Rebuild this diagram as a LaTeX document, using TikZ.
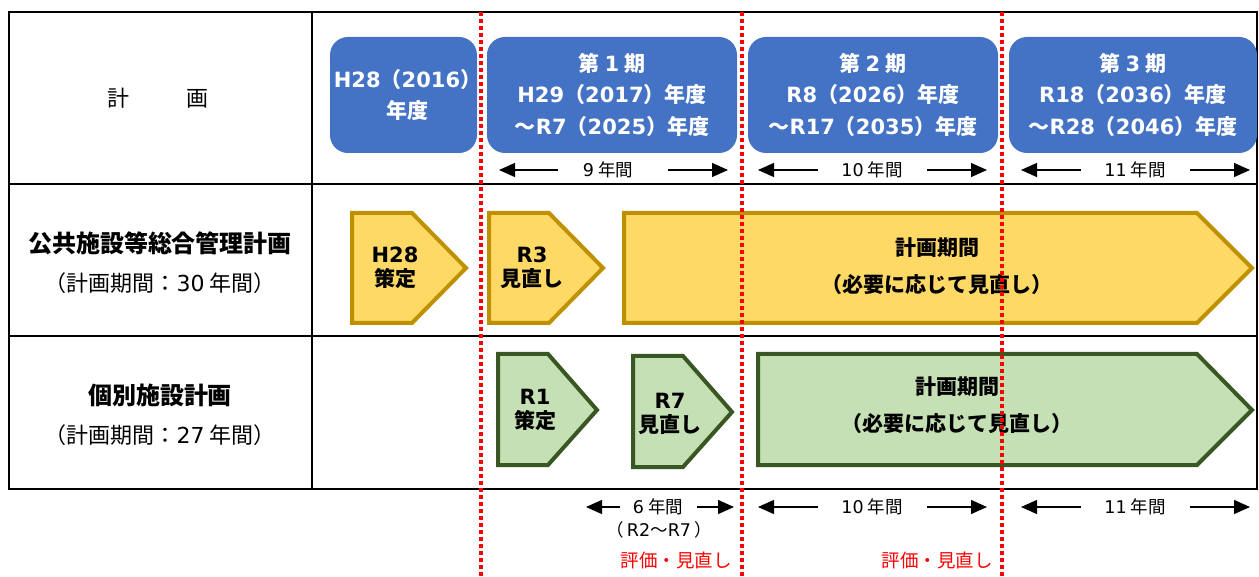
\documentclass[tikz,border=0pt]{standalone}
\usepackage{fontspec}
\setmainfont{Noto Sans CJK JP}
\newfontfamily\latf{DejaVu Sans}
\newcommand\Lat[1]{{\latf #1}}
\usetikzlibrary{arrows.meta}
\definecolor{boxblue}{HTML}{4472C4}
\definecolor{yelfill}{HTML}{FFD966}
\definecolor{yeldraw}{HTML}{BF9000}
\definecolor{grnfill}{HTML}{C5E0B4}
\definecolor{grndraw}{HTML}{385723}
\definecolor{redline}{HTML}{FF0000}
\tikzset{
  tbl/.style={line width=2pt, black},
  periodbox/.style={fill=boxblue, rounded corners=18pt, inner sep=0pt},
  periodtext/.style={inner sep=0pt, text=white,
     font=\fontsize{21}{31.5}\selectfont\bfseries, align=center},
  yelpent/.style={fill=yelfill, draw=yeldraw, line width=4pt, line join=miter},
  grnpent/.style={fill=grnfill, draw=grndraw, line width=4pt, line join=miter},
  penttext/.style={font=\fontsize{21}{24.5}\selectfont\bfseries, align=center, inner sep=0pt},
  bigtext/.style={font=\fontsize{21}{37}\selectfont\bfseries, align=center, inner sep=0pt},
  lbold/.style={font=\fontsize{24}{28}\selectfont\bfseries, inner sep=0pt},
  lnorm/.style={font=\fontsize{22}{26}\selectfont, inner sep=0pt},
  dimtext/.style={font=\fontsize{17.5}{20}\selectfont, inner sep=0pt},
  dimarrow/.style={line width=1.3pt, -{Triangle[length=16pt,width=14pt]}},
  evaltext/.style={font=\fontsize{18.5}{20}\selectfont, text=redline, inner sep=0pt},
  reddot/.style={redline, line width=3.5pt, dash pattern=on 4pt off 3pt},
}
\begin{document}
\begin{tikzpicture}[x=1pt,y=-1pt]
\useasboundingbox (0,0) rectangle (1259,577);
\fill[white] (0,0) rectangle (1259,577);

% table
\draw[tbl] (9,12) rectangle (1257,489);
\draw[tbl] (312,12) -- (312,489);
\draw[tbl] (9,184) -- (1257,184);
\draw[tbl] (9,336) -- (1257,336);

% left labels
\node[lnorm] (hdr) at (158,98) {計\hspace{57pt}画};
\node[lbold] (l1a) at (160,243) {公共施設等総合管理計画};
\node[lnorm] (l1b) at (160,283) {（計画期間：\Lat{30} 年間）};
\node[lbold] (l2a) at (160,395) {個別施設計画};
\node[lnorm] (l2b) at (160,435) {（計画期間：\Lat{27} 年間）};

% period boxes
\node[periodbox, minimum width=147pt, minimum height=116pt] (p0) at (403.5,95) {};
\node[periodbox, minimum width=250pt, minimum height=116pt] (p1) at (612,95) {};
\node[periodbox, minimum width=250pt, minimum height=116pt] (p2) at (873,95) {};
\node[periodbox, minimum width=248pt, minimum height=116pt] (p3) at (1133,95) {};
\node[periodtext] (p0t) at ([xshift=4pt]p0.center) {\Lat{H28}（\Lat{2016}）\\年度};
\node[periodtext] (p1t) at (p1.center) {第 \Lat{1} 期\\\Lat{H29}（\Lat{2017}）年度\\～\Lat{R7}（\Lat{2025}）年度};
\node[periodtext] (p2t) at (p2.center) {第 \Lat{2} 期\\\Lat{R8}（\Lat{2026}）年度\\～\Lat{R17}（\Lat{2035}）年度};
\node[periodtext] (p3t) at (p3.center) {第 \Lat{3} 期\\\Lat{R18}（\Lat{2036}）年度\\～\Lat{R28}（\Lat{2046}）年度};

% top duration arrows
\node[dimtext] (t9) at (608,170) {\Lat{9} 年間};
\coordinate (t9l1) at (558,170); \coordinate (t9l2) at (499,170);
\coordinate (t9r1) at (668,170); \coordinate (t9r2) at (728,170);
\draw[dimarrow] (t9l1) -- (t9l2);
\draw[dimarrow] (t9r1) -- (t9r2);
\node[dimtext] (t10) at (872,170) {\Lat{10} 年間};
\coordinate (t10l1) at (818,170); \coordinate (t10l2) at (758,170);
\coordinate (t10r1) at (927,170); \coordinate (t10r2) at (987,170);
\draw[dimarrow] (t10l1) -- (t10l2);
\draw[dimarrow] (t10r1) -- (t10r2);
\node[dimtext] (t11) at (1135,170) {\Lat{11} 年間};
\coordinate (t11l1) at (1081,170); \coordinate (t11l2) at (1021,170);
\coordinate (t11r1) at (1190,170); \coordinate (t11r2) at (1250,170);
\draw[dimarrow] (t11l1) -- (t11l2);
\draw[dimarrow] (t11r1) -- (t11r2);

% yellow pentagons
\draw[yelpent] (352,213) -- (412,213) -- (466,268) -- (412,323) -- (352,323) -- cycle;
\node[penttext] (y1) at (395,268) {\Lat{H28}\\策定};
\draw[yelpent] (489,213) -- (549,213) -- (603,268) -- (549,323) -- (489,323) -- cycle;
\node[penttext] (y2) at (532,268) {\Lat{R3}\\見直し};
\draw[yelpent] (624,213) -- (1197,213) -- (1252,268) -- (1197,323) -- (624,323) -- cycle;
\node[bigtext] (y3) at (937,266) {計画期間\\（必要に応じて見直し）};

% green pentagons
\draw[grnpent] (498,354) -- (548,354) -- (597,410) -- (548,465) -- (498,465) -- cycle;
\node[penttext] (g1) at (535,410) {\Lat{R1}\\策定};
\draw[grnpent] (633,356) -- (683,356) -- (732,412) -- (683,467) -- (633,467) -- cycle;
\node[penttext] (g2) at (670,414) {\Lat{R7}\\見直し};
\draw[grnpent] (758,354) -- (1197,354) -- (1252,410) -- (1197,465) -- (758,465) -- cycle;
\node[bigtext] (g3) at (957,405) {計画期間\\（必要に応じて見直し）};

% bottom duration arrows
\node[dimtext] (b6) at (658,507) {\Lat{6} 年間};
\coordinate (b6l1) at (620,507); \coordinate (b6l2) at (586,507);
\coordinate (b6r1) at (697,507); \coordinate (b6r2) at (734,507);
\draw[dimarrow] (b6l1) -- (b6l2);
\draw[dimarrow] (b6r1) -- (b6r2);
\node[dimtext] (b6s) at (659,530) {（\hspace{3pt}\Lat{R2}～\Lat{R7}\hspace{3pt}）};
\node[evaltext] (e1) at (676,560) {評価・見直し};
\node[dimtext] (b10) at (872,507) {\Lat{10} 年間};
\coordinate (b10l1) at (818,507); \coordinate (b10l2) at (758,507);
\coordinate (b10r1) at (927,507); \coordinate (b10r2) at (987,507);
\draw[dimarrow] (b10l1) -- (b10l2);
\draw[dimarrow] (b10r1) -- (b10r2);
\node[evaltext] (e2) at (937,560) {評価・見直し};
\node[dimtext] (b11) at (1135,507) {\Lat{11} 年間};
\coordinate (b11l1) at (1081,507); \coordinate (b11l2) at (1021,507);
\coordinate (b11r1) at (1190,507); \coordinate (b11r2) at (1250,507);
\draw[dimarrow] (b11l1) -- (b11l2);
\draw[dimarrow] (b11r1) -- (b11r2);

% red dotted dividers
\coordinate (r1t) at (481,12); \coordinate (r1b) at (481,577);
\coordinate (r2t) at (742,12); \coordinate (r2b) at (742,577);
\coordinate (r3t) at (1002,12); \coordinate (r3b) at (1002,577);
\draw[reddot] (r1t) -- (r1b);
\draw[reddot] (r2t) -- (r2b);
\draw[reddot] (r3t) -- (r3b);
\end{tikzpicture}
\end{document}
